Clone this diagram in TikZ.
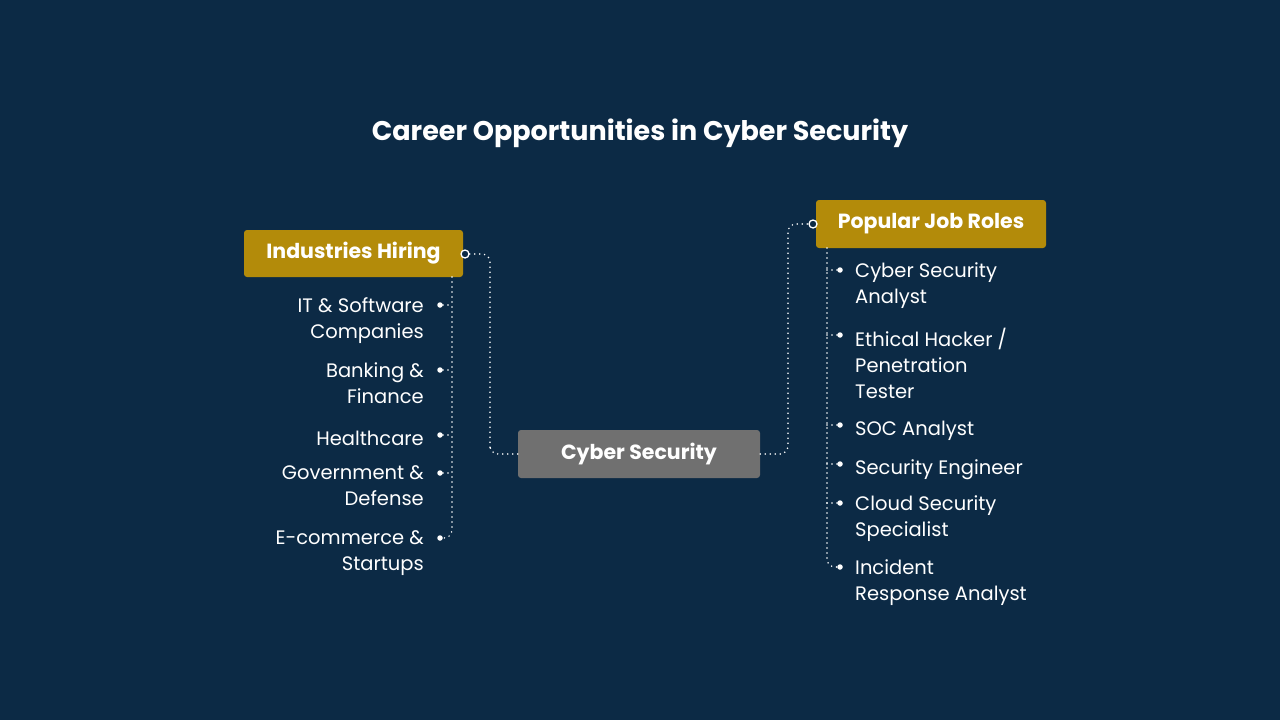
\documentclass[tikz,border=0pt]{standalone}
\usepackage{fontspec}
\setmainfont{Poppins}
\usetikzlibrary{positioning}

\definecolor{bgnavy}{HTML}{0C2A45}
\definecolor{boxgold}{HTML}{B38B0A}
\definecolor{boxgray}{HTML}{707070}

\tikzset{
    headbox/.style={fill=boxgold, rounded corners=3pt, text=white,
        font=\fontsize{20.5}{24}\selectfont\bfseries, minimum height=47pt},
    hubbox/.style={fill=boxgray, rounded corners=3pt, text=white,
        font=\fontsize{20.5}{24}\selectfont\bfseries, minimum height=48pt, minimum width=242pt},
    item/.style={text=white, font=\fontsize{19.5}{26}\selectfont, inner sep=0pt,
        execute at begin node=\strut},
    dotline/.style={white, line width=1.7pt, line cap=round,
        dash pattern=on 0pt off 5pt, rounded corners=8pt},
    bullet/.style={circle, fill=white, inner sep=0pt, minimum size=5.5pt},
    joint/.style={circle, draw=white, fill=bgnavy, line width=1.3pt, inner sep=0pt, minimum size=8pt}
}

\begin{document}
\begin{tikzpicture}[x=1pt, y=-1pt]
    % background
    \fill[bgnavy] (0,0) rectangle (1280,720);

    % title
    \node[text=white, font=\fontsize{27}{32}\selectfont\bfseries] (title) at (640,133)
        {Career Opportunities in Cyber Security};

    % boxes
    \node[hubbox] (hub) at (639,454) {Cyber Security};
    \node[headbox, minimum width=219pt] (ind) at (353.5,253.5) {Industries Hiring};
    \node[headbox, minimum width=230pt, minimum height=48pt] (job) at (931,224) {Popular Job Roles};

    % joints
    \node[joint] (indj) at (465,254) {};
    \node[joint] (jobj) at (813,224) {};

    % hub connectors
    \draw[dotline] (indj) -| (490,440) |- (hub.west);
    \draw[dotline] (hub.east) -| (788,240) |- (jobj);

    % left list
    \foreach \name/\y/\txt in {i1/305/{IT \& Software\\Companies},
                               i2/370/{Banking \&\\Finance},
                               i3/435/{Healthcare},
                               i4/473/{Government \&\\Defense},
                               i5/538/{E-commerce \&\\Startups}} {
        \node[bullet] (\name) at (440,\y) {};
        \node[item, align=right, anchor=north east] (\name t) at (424,\y-7.5) {\txt};
    }
    \coordinate (indrail) at (452,277);
    \draw[dotline] (indrail) |- (i5);
    \foreach \name in {i1,i2,i3,i4}
        \draw[dotline] (\name) -- (\name -| indrail);

    % right list
    \foreach \name/\y/\txt in {r1/270/{Cyber Security\\Analyst},
                               r2/335/{Ethical Hacker /\\Penetration\\Tester},
                               r3/425/{SOC Analyst},
                               r4/464/{Security Engineer},
                               r5/503/{Cloud Security\\Specialist},
                               r6/567/{Incident\\Response Analyst}} {
        \node[bullet] (\name) at (840,\y) {};
        \node[item, align=left, anchor=north west] (\name t) at (855,\y-7.5) {\txt};
    }
    \coordinate (jobrail) at (827,248);
    \draw[dotline] (jobrail) |- (r6);
    \foreach \name in {r1,r2,r3,r4,r5}
        \draw[dotline] (\name) -- (\name -| jobrail);
\end{tikzpicture}
\end{document}
